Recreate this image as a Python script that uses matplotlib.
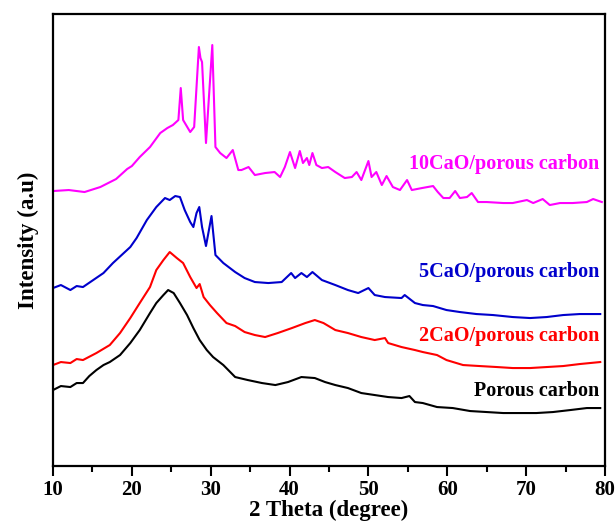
import matplotlib.pyplot as plt

# XRD patterns, intensity in arbitrary units (curves are already offset)
theta_pc = [10, 11, 12.2, 13, 13.8, 14.6, 15.5, 16.4, 17.2, 18.5, 19.8, 21, 22.3, 23.1, 24,
            24.6, 25.3, 26.1, 27, 27.8, 28.6, 29.5, 30.3, 31.6, 33.1, 34.7, 36.5, 38.2,
            39.8, 41.5, 43.2, 44.5, 45.8, 47.4, 49.1, 50.8, 52.5, 54.2, 55.2, 55.9, 56.9,
            58.7, 60.7, 62.9, 65, 67.1, 69.2, 71.3, 73.4, 75.6, 77.7, 79.4]
int_pc = [76, 80, 79, 83, 83, 90, 96, 101, 104, 111, 123, 136, 153, 163, 171,
          176, 173, 163, 151, 138, 126, 116, 109, 101, 89, 86, 83, 81,
          84, 89, 88, 84, 81, 78, 73, 71, 69, 68, 70, 64, 63,
          59, 58, 55, 54, 53, 53, 53, 54, 56, 58, 58]

theta_2 = [10, 11, 12.2, 13, 13.8, 15.5, 17.2, 18.5, 19.8, 21, 22.3, 23.1, 24, 24.8,
           25.7, 26.5, 27.4, 28.2, 28.6, 29.1, 29.9, 30.8, 32, 33.1, 34.3, 35.6, 36.9,
           38.5, 40.3, 42, 43.2, 44.3, 45.8, 47.4, 49.1, 50.8, 52.1, 52.5, 54.2, 55.9,
           56.9, 58.7, 59.9, 62, 64.1, 66.3, 68.3, 70.5, 72.6, 74.7, 76.8, 79.4]
int_2 = [101, 104, 103, 107, 106, 113, 121, 133, 148, 163, 179, 196, 206, 214,
         208, 203, 189, 178, 182, 169, 161, 153, 143, 140, 134, 131, 129,
         133, 138, 143, 146, 143, 136, 133, 129, 126, 128, 123, 119, 116,
         114, 111, 106, 101, 100, 99, 98, 98, 99, 100, 102, 104]

theta_5 = [10, 11, 12.2, 13, 13.8, 15.1, 16.4, 17.6, 18.7, 19.8, 20.6, 21.9, 23.1,
           24.2, 24.8, 25.5, 26.1, 26.7, 27.4, 27.8, 28.2, 28.55, 28.9, 29.4, 30.1,
           30.6, 31.6, 33.1, 34.3, 35.6, 37.3, 39, 40.2, 40.7, 41.5, 42.2, 42.9,
           44.1, 45.8, 47.4, 48.7, 50, 50.8, 52.1, 54.2, 54.6, 55.9, 56.9, 58.2,
           59.9, 61.6, 63.7, 65.8, 68.3, 70.5, 72.6, 74.7, 76.8, 79.4]
int_5 = [178, 181, 176, 180, 179, 186, 193, 203, 211, 219, 228, 246, 259,
         268, 266, 270, 269, 256, 244, 239, 253, 259, 239, 220, 250,
         211, 203, 194, 188, 184, 183, 184, 193, 188, 193, 189, 194,
         186, 181, 176, 173, 178, 171, 169, 168, 171, 163, 161, 160,
         156, 154, 152, 151, 149, 148, 149, 151, 152, 152]

theta_10 = [10, 12, 14, 16, 18, 19.4, 20, 21, 22.3, 23.6, 24.5, 25.2, 25.9, 26.2,
            26.5, 27.4, 27.9, 28.5, 28.7, 28.9, 29.4, 30.2, 30.6, 31.2, 32, 32.8,
            33.5, 33.9, 34.8, 35.6, 36.9, 38.1, 38.8, 39.4, 40.05, 40.7, 41.3,
            41.7, 42.2, 42.5, 42.9, 43.4, 44.1, 44.9, 45.8, 47, 47.9, 48.5, 49.1,
            50, 50.4, 51, 51.7, 52.3, 53.1, 54, 54.9, 55.5, 56.8, 58.2, 58.8,
            59.5, 60.3, 61, 61.6, 62.5, 63.1, 63.9, 65, 67.1, 68.3, 70.1, 70.9,
            72.1, 73, 74.3, 75.9, 77.7, 78.5, 79.6]
int_10 = [275, 276, 274, 279, 287, 297, 300, 309, 319, 333, 338, 341, 346, 378,
          346, 334, 339, 419, 408, 404, 323, 421, 319, 313, 308, 316,
          296, 296, 299, 291, 293, 294, 289, 299, 314, 298, 315,
          303, 308, 301, 313, 301, 298, 299, 294, 288, 289, 294, 286,
          305, 289, 294, 281, 290, 279, 276, 286, 276, 278, 280, 274,
          268, 268, 275, 268, 269, 273, 264, 264, 263, 263, 266, 263,
          267, 261, 263, 263, 264, 267, 264]

names = ["Porous carbon", "2CaO/porous carbon", "5CaO/porous carbon", "10CaO/porous carbon"]
colors = ["black", "#ff0000", "#0000cc", "#ff00ff"]
label_y = [75, 130, 194, 302]

serif = ["Liberation Serif", "DejaVu Serif"]

fig = plt.figure(figsize=(6.15, 5.29), dpi=100)
ax = fig.add_axes([0.0862, 0.119, 0.8975, 0.8545])

series = [(theta_pc, int_pc), (theta_2, int_2), (theta_5, int_5), (theta_10, int_10)]
for (t, v), c in zip(series, colors):
    ax.plot(t, v, color=c, lw=1.5)

for name, c, yy in zip(names, colors, label_y):
    ax.text(79.3, yy, name, color=c, ha="right", va="center",
            fontsize=14.5, fontweight="bold", family=serif)

ax.set_xlim(10, 80)
ax.set_ylim(0, 452)
ax.set_xticks(range(10, 81, 10))
ax.set_xticks(range(15, 80, 10), minor=True)
ax.set_yticks([])
for lab in ax.get_xticklabels():
    lab.set_family(serif)
    lab.set_fontweight("bold")
    lab.set_fontsize(15)
ax.tick_params(axis="x", which="major", direction="out", length=7, width=1.5, pad=3)
ax.tick_params(axis="x", which="minor", direction="out", length=4, width=1.5)
for s in ax.spines.values():
    s.set_linewidth(1.6)

ax.set_xlabel("2 Theta (degree)", family=serif, fontweight="bold", fontsize=16.5, labelpad=0)
ax.set_ylabel("Intensity (a.u)", family=serif, fontweight="bold", fontsize=16.5, labelpad=10)

fig.savefig("out.png", dpi=100)
